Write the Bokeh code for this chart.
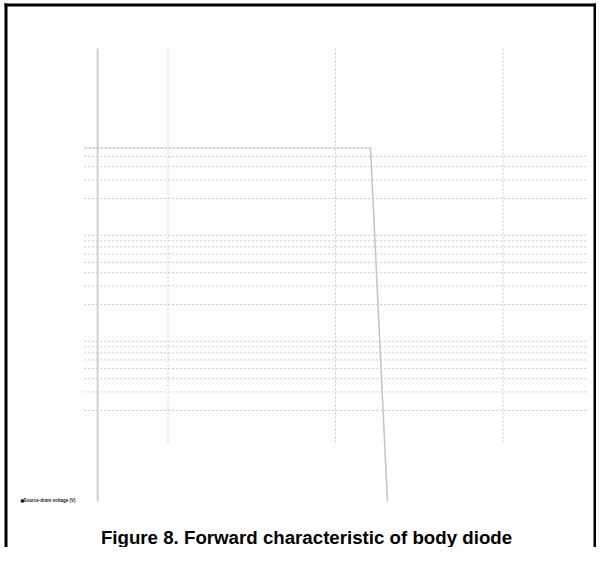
from bokeh.plotting import figure
from bokeh.models import Label, Range1d, BoxAnnotation
from bokeh.embed import file_html
from bokeh.resources import INLINE

# ---- data ----
title_text = "Figure 8. Forward characteristic of body diode"
x_label = "Source-drain voltage (V)"
y_label = "Source-drain current (A)"

x_grid_ticks = [0.5, 1.0, 1.5]
y_grid_ticks = [0.02, 0.03, 0.04, 0.05, 0.06, 0.07, 0.08, 0.09,
                0.2, 0.3, 0.4, 0.5, 0.6, 0.7, 0.8, 0.9,
                2, 3, 4, 5]

curve_v = [1.1045, 1.155]
curve_i = [6.0, 0.00277]
ref_v = [0.25, 1.1045]
ref_i = [6.0, 6.0]
axis_v = [0.29]

# plot extents (data units)
X_GRID_SPAN = (0.25, 1.75)      # horizontal grid lines run across this x span
Y_GRID_SPAN = (0.01, 52.1)      # vertical grid lines run across this y span
Y_AXIS_SPAN = (0.00277, 52.1)   # the y axis line

W, H = 596, 547
X0, X1 = 0.0, 596 / 335
Y0, Y1 = 0.001022, 147.8

p = figure(width=W, height=H, y_axis_type="log",
           x_range=Range1d(X0, X1), y_range=Range1d(Y0, Y1),
           output_backend="svg", toolbar_location=None,
           min_border_left=0, min_border_right=0,
           min_border_top=0, min_border_bottom=0)
p.title.visible = False
p.outline_line_color = None
p.axis.visible = False
p.grid.visible = False
p.background_fill_color = "white"
p.border_fill_color = "white"

grid_color = "#c8c8c8"
# vertical grid lines
p.segment(x0=x_grid_ticks, x1=x_grid_ticks,
          y0=[Y_GRID_SPAN[0]] * len(x_grid_ticks), y1=[Y_GRID_SPAN[1]] * len(x_grid_ticks),
          line_color=grid_color, line_width=1, line_dash="2 2")
# horizontal grid lines
p.segment(x0=[X_GRID_SPAN[0]] * len(y_grid_ticks), x1=[X_GRID_SPAN[1]] * len(y_grid_ticks),
          y0=y_grid_ticks, y1=y_grid_ticks,
          line_color=grid_color, line_width=1, line_dash="2 2")
# y axis line
p.segment(x0=axis_v, x1=axis_v, y0=[Y_AXIS_SPAN[0]], y1=[Y_AXIS_SPAN[1]],
          line_color="#cfcfcf", line_width=2)

p.line(ref_v, ref_i, line_color="#b0b0b0", line_width=1, line_dash="3 1")
p.line(curve_v, curve_i, line_color="#c4c4c4", line_width=1.5)

# page border
p.add_layout(BoxAnnotation(left=4 / 335, right=7 / 335, top=138.5,
                           fill_color="black", fill_alpha=1, line_color=None))
p.add_layout(BoxAnnotation(bottom=129.8, top=138.5, left=4 / 335,
                           fill_color="black", fill_alpha=1, line_color=None))
p.add_layout(BoxAnnotation(left=593 / 335, top=138.5,
                           fill_color="black", fill_alpha=1, line_color=None))

p.add_layout(Label(x=306, y=10, x_units="screen", y_units="screen",
                   text=title_text, text_align="center", text_baseline="middle",
                   text_font="Liberation Sans", text_font_style="bold",
                   text_font_size="18.7px", text_color="#000000"))
p.add_layout(Label(x=20, y=47, x_units="screen", y_units="screen",
                   text="\u25a0", text_align="left", text_baseline="middle",
                   text_font="DejaVu Sans", text_font_size="4px", text_color="#000000"))
p.add_layout(Label(x=23, y=47, x_units="screen", y_units="screen",
                   text=x_label, text_align="left", text_baseline="middle",
                   text_font="Liberation Sans", text_font_style="bold",
                   text_font_size="4.5px", text_color="#222222"))
p.add_layout(Label(x=23, y=390, x_units="screen", y_units="screen",
                   text=y_label, text_align="center", text_baseline="middle",
                   angle=1.5708, text_font="Liberation Sans",
                   text_font_size="0.5px", text_color="#999999"))

open("out.html", "w").write(file_html(p, INLINE))
